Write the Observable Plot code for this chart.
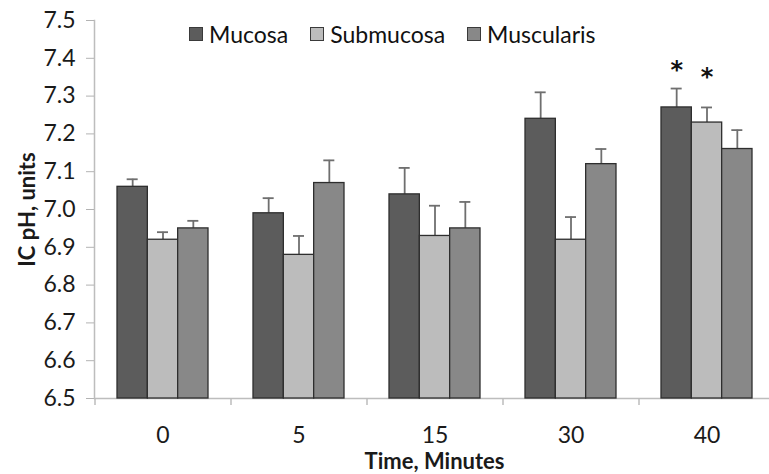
<!DOCTYPE html>
<html><head><meta charset="utf-8">
<script src="https://cdn.jsdelivr.net/npm/d3@7"></script>
<script src="https://cdn.jsdelivr.net/npm/@observablehq/plot@0.6"></script>
<style>
body{margin:0;background:#fff;font-family:Lato,sans-serif;}
#wrap{position:relative;width:769px;height:474px;overflow:hidden;}
#legend{position:absolute;top:21px;left:189px;display:flex;align-items:center;font-size:23px;color:#111;line-height:26px;}
#legend .item{display:flex;align-items:center;margin-right:22px;}
#legend .sw{width:14px;height:14px;border:1px solid #3a3a3a;margin-right:6px;box-sizing:border-box;}
</style></head><body>
<div id="wrap"><div id="legend"></div></div>
<script>
// ---- data ----
const times = ["0", "5", "15", "30", "40"];
const series = ["Mucosa", "Submucosa", "Muscularis"];
const colors = ["#5c5c5c", "#bcbcbc", "#888888"];
const mucosa = [7.06, 6.99, 7.04, 7.24, 7.27];
const mucosaErr = [0.02, 0.04, 0.07, 0.07, 0.05];
const submucosa = [6.92, 6.88, 6.93, 6.92, 7.23];
const submucosaErr = [0.02, 0.05, 0.08, 0.06, 0.04];
const muscularis = [6.95, 7.07, 6.95, 7.12, 7.16];
const muscularisErr = [0.02, 0.06, 0.07, 0.04, 0.05];
const yTicks = [6.5, 6.6, 6.7, 6.8, 6.9, 7.0, 7.1, 7.2, 7.3, 7.4, 7.5];
const starTimes = ["40", "40"];
const starSeries = ["Mucosa", "Submucosa"];
const starLevels = [7.38, 7.36];
const xTitle = "Time, Minutes";
const yTitle = "IC pH, units";

// ---- build rows ----
const values = [mucosa, submucosa, muscularis];
const errors = [mucosaErr, submucosaErr, muscularisErr];
const rows = [];
series.forEach((s, si) => times.forEach((t, ti) =>
  rows.push({time: t, series: s, value: values[si][ti], err: errors[si][ti]})));
const stars = starTimes.map((t, i) => ({time: t, series: starSeries[i], level: starLevels[i]}));

// ---- layout ----
const width = 769, height = 474;
const marginLeft = 94, marginRight = -5, marginTop = 20, marginBottom = 76;
const padInner = 0.331, padOuter = padInner / 2;
const step = (width - marginLeft - marginRight) / (times.length - padInner + 2 * padOuter);
const band = step * (1 - padInner);
const barW = band / series.length;
const capW = 11;
const y0 = yTicks[0];
const nS = series.length;

const marks = [];
series.forEach((s, si) => {
  const data = rows.filter(d => d.series === s);
  marks.push(Plot.ruleX(data, {x: "time", y1: "value", y2: d => d.value + d.err,
    dx: (si - (nS - 1) / 2) * barW, stroke: "#6f6f6f", strokeWidth: 1.8}));
  marks.push(Plot.tickY(data, {x: "time", y: d => d.value + d.err,
    insetLeft: si * barW + (barW - capW) / 2, insetRight: (nS - 1 - si) * barW + (barW - capW) / 2,
    stroke: "#6f6f6f", strokeWidth: 1.8}));
  marks.push(Plot.barY(data, {x: "time", y1: () => y0, y2: "value", fill: colors[si],
    insetLeft: si * barW, insetRight: (nS - 1 - si) * barW, stroke: "#2e2e2e", strokeWidth: 1.3}));
});
stars.forEach(st => {
  const si = series.indexOf(st.series);
  marks.push(Plot.text([st], {x: "time", y: "level", text: () => "*", dx: (si - (nS - 1) / 2) * barW,
    fontSize: 24, fontWeight: "bold", fill: "#111", fontFamily: "DejaVu Sans", dy: 4}));
});

const chart = Plot.plot({
  width, height, marginLeft, marginRight, marginTop, marginBottom,
  style: {fontFamily: "Lato, sans-serif", color: "#1a1a1a", background: "#fff", overflow: "visible"},
  x: {domain: times, type: "band", paddingInner: padInner, paddingOuter: padOuter, axis: null},
  y: {domain: [yTicks[0], yTicks[yTicks.length - 1]], axis: null},
  marks: [
    Plot.ruleY([y0], {stroke: "#bdbdbd", strokeWidth: 1.5}),
    Plot.frame({anchor: "left", stroke: "#bdbdbd", strokeWidth: 1.5}),
    Plot.axisX({ticks: times, tickSize: 7, dx: -step / 2, tickFormat: () => "", stroke: "#bdbdbd", strokeWidth: 1.5, label: null}),
    Plot.axisX({ticks: times, tickSize: 0, tickPadding: 28, fontSize: 23, label: null}),
    Plot.axisX({ticks: [], label: xTitle, labelAnchor: "center", labelOffset: 70, labelArrow: "none", fontSize: 22, fontWeight: "bold"}),
    Plot.axisY({ticks: yTicks, tickFormat: d3.format(".1f"), tickSize: 8, tickPadding: 11, fontSize: 23, stroke: "#b3b3b3", label: null}),
    Plot.axisY({ticks: [], label: yTitle, labelAnchor: "center", labelOffset: 75, labelArrow: "none", fontSize: 22, fontWeight: "bold"}),
    ...marks
  ]
});
document.getElementById("wrap").prepend(chart);

// ---- legend ----
const legend = document.getElementById("legend");
series.forEach((s, i) => {
  const item = document.createElement("div");
  item.className = "item";
  const sw = document.createElement("div");
  sw.className = "sw";
  sw.style.background = colors[i];
  const lab = document.createElement("span");
  lab.textContent = s;
  item.append(sw, lab);
  legend.append(item);
});
</script>
</body></html>
